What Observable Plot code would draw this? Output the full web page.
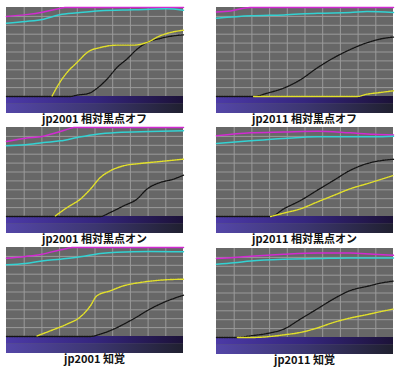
<!DOCTYPE html>
<html><head><meta charset="utf-8">
<script src="https://cdn.jsdelivr.net/npm/d3@7"></script>
<script src="https://cdn.jsdelivr.net/npm/@observablehq/plot@0.6"></script>
<style>
body{margin:0;background:#fff;}
#wrap{position:relative;width:400px;height:374px;overflow:hidden;}
.panel{position:absolute;z-index:1;}
.lbl{position:absolute;z-index:5;width:200px;text-align:center;font-family:"Noto Sans CJK JP","Noto Sans",sans-serif;font-weight:bold;font-size:11px;line-height:12px;color:#111;}
</style></head>
<body><div id="wrap"></div>
<script>
// ---- data (x: 0–100 across panel, y: 0–100 above bar) ----
const titles = ["jp2001 相対黒点オフ","jp2011 相対黒点オフ","jp2001 相対黒点オン","jp2011 相対黒点オン","jp2001 知覚","jp2011 知覚"];

const p1Magenta=[[0,90],[11,92],[21,95],[30,99],[33,100],[100,100]];
const p1Cyan=[[0,82.4],[11,84.3],[21,86.9],[30,91.8],[40,94],[53,96.3],[72,97.4],[90,98.5],[100,97]];
const p1Yellow=[[25.8,0.7],[29.5,13.9],[34.2,27],[39.8,38.2],[46.4,50.6],[53,55],[62.4,57.7],[71.8,57.7],[79.3,60.7],[86.8,68.2],[94.4,72.7],[100,74.5]];
const p1Black=[[0,0],[36,0],[39.8,1.5],[46.4,3.4],[51,9],[56.8,19.5],[62.4,32.6],[68,42],[73.7,53],[79.3,60.7],[86.8,65.2],[94.4,68.2],[100,69.3]];

const p2Magenta=[[0,95],[8,96.2],[19,100],[100,100]];
const p2Cyan=[[0,87.9],[19.3,90.6],[38,91.7],[57,93.6],[75.6,94.3],[85,95.5],[100,94.3]];
const p2Yellow=[[21,0],[79.4,0],[85,2.6],[92.5,4.5],[100,6.4]];
const p2Black=[[0,0],[21,0],[28.7,3.8],[38,9.4],[47.5,18.9],[56.8,32],[66.2,43.4],[75.6,52.8],[85,60.4],[94.4,65.3],[100,66.8]];

const p3Magenta=[[0,84.3],[10.7,88],[20.1,89.9],[28.6,94.4],[36,99],[38,100],[100,100]];
const p3Cyan=[[0,79.4],[10.7,80.5],[21,83.1],[30.5,85],[40,88.8],[51,92.5],[62.4,94.4],[81.2,95.5],[100,96.3]];
const p3Yellow=[[27.6,0.7],[34.2,10],[41.7,19.5],[47.4,30.7],[53,43.8],[58.6,51.3],[66.2,57],[75.6,59.6],[86.8,61.8],[100,64.4]];
const p3Black=[[0,0],[53,0],[58.6,4.5],[66.2,12],[73.7,19.5],[79.3,30.7],[86.8,38.2],[94.4,42],[100,46.4]];

const p4Magenta=[[0,90.6],[19.3,94],[38,95],[57,95.9],[75.6,94],[88.7,92.5],[100,91.7]];
const p4Cyan=[[0,82],[19.3,85],[38,87.6],[57,89.5],[75.6,89.5],[88.7,89.5],[100,90.2]];
const p4Yellow=[[30.6,0],[38,3.8],[47.5,8.6],[56.8,16.2],[66.2,23.7],[75.6,31.2],[85,36.8],[92.5,41.4],[100,46.2]];
const p4Black=[[0,0],[30.6,0],[38,8.6],[47.5,18],[56.8,29.3],[66.2,40.6],[75.6,51.9],[85,59.4],[94.4,63.2],[100,64.3]];

const p5Magenta=[[0,88],[10.7,90],[20.1,92.5],[29.5,97],[34.2,99],[37,100],[100,100]];
const p5Cyan=[[0,80.5],[10.7,82],[21,85],[30.5,86.9],[41.7,89.5],[53,93.3],[62.4,94.8],[81.2,95.5],[100,95.1]];
const p5Yellow=[[17.3,0.7],[24.8,6.4],[34.2,13.9],[41.7,22],[47.4,34.5],[51,45.7],[58.6,51.3],[66.2,57],[75.6,60.7],[86.8,63.3],[100,64.4]];
const p5Black=[[0,0],[47.4,0],[53,2.6],[60.5,8.2],[68,15.7],[73.7,22],[79.3,28.8],[88.7,38.2],[100,46.4]];

const p6Magenta=[[0,88.7],[10,89.8],[19.3,91.3],[38,93.6],[57,95],[75.6,95],[88.7,93.6],[100,92.5]];
const p6Cyan=[[0,82.3],[10,84],[19.3,86],[38,88],[57,88.7],[75.6,89.4],[100,89.4]];
const p6Yellow=[[11.8,0],[19.3,0],[28.7,0.8],[38,3],[47.5,5.7],[56.8,10.6],[66.2,17],[75.6,21.9],[85,25.7],[92.5,29],[100,32]];
const p6Black=[[0,0],[11.8,0],[19.3,1.9],[28.7,4.5],[38,9.4],[47.5,20.8],[56.8,32],[66.2,43.4],[75.6,52.8],[85,57.4],[92.5,61],[100,63.4]];

const gridTicks=[10,20,30,40,50,60,70,80,90];
const xDomain=[0,100], yTop=100, barDepth=19.1;

const panels=[
 {m:p1Magenta,c:p1Cyan,y:p1Yellow,b:p1Black,left:6,top:7},
 {m:p2Magenta,c:p2Cyan,y:p2Yellow,b:p2Black,left:216,top:7},
 {m:p3Magenta,c:p3Cyan,y:p3Yellow,b:p3Black,left:6,top:127},
 {m:p4Magenta,c:p4Cyan,y:p4Yellow,b:p4Black,left:216,top:127},
 {m:p5Magenta,c:p5Cyan,y:p5Yellow,b:p5Black,left:6,top:247},
 {m:p6Magenta,c:p6Cyan,y:p6Yellow,b:p6Black,left:216,top:248}
];
const W=177,H=106;
const wrap=document.getElementById("wrap");

panels.forEach((p,i)=>{
  const idT="gt"+i, idB="gb"+i;
  const band=[{x1:xDomain[0],x2:xDomain[1],y1:-barDepth*0.45,y2:0},
              {x1:xDomain[0],x2:xDomain[1],y1:-barDepth,y2:-barDepth*0.45}];
  const svg=Plot.plot({
    width:W,height:H,margin:0,
    x:{domain:xDomain,axis:null},
    y:{domain:[-barDepth,yTop],axis:null},
    style:{background:"#676767",overflow:"visible"},
    marks:[
      Plot.ruleX(gridTicks,{x:d=>d,y1:0,y2:yTop,stroke:"#9a9a9a",strokeWidth:1}),
      Plot.ruleY(gridTicks,{y:d=>d,stroke:"#9a9a9a",strokeWidth:1}),
      Plot.rect([band[0]],{x1:"x1",x2:"x2",y1:"y1",y2:"y2",fill:`url(#${idT})`}),
      Plot.rect([band[1]],{x1:"x1",x2:"x2",y1:"y1",y2:"y2",fill:`url(#${idB})`}),
      Plot.line(p.m,{x:d=>d[0],y:d=>d[1],stroke:"#d22ad2",strokeWidth:1.5,curve:"monotone-x"}),
      Plot.line(p.c,{x:d=>d[0],y:d=>d[1],stroke:"#33d2d2",strokeWidth:1.5,curve:"monotone-x"}),
      Plot.line(p.b,{x:d=>d[0],y:d=>d[1],stroke:"#141414",strokeWidth:1.3,strokeDasharray:"1.5,1",curve:"monotone-x"}),
      Plot.line(p.y,{x:d=>d[0],y:d=>d[1],stroke:"#e2e02a",strokeWidth:1.4,strokeDasharray:"1.5,1",curve:"monotone-x"})
    ]
  });
  const defs=d3.select(svg).insert("defs",":first-child");
  const gt=defs.append("linearGradient").attr("id",idT).attr("x1",0).attr("x2",1).attr("y1",0).attr("y2",0);
  gt.append("stop").attr("offset",0).attr("stop-color","#4c3aa6");
  gt.append("stop").attr("offset",0.5).attr("stop-color","#35267e");
  gt.append("stop").attr("offset",1).attr("stop-color","#1c1238");
  const gb=defs.append("linearGradient").attr("id",idB).attr("x1",0).attr("x2",1).attr("y1",0).attr("y2",0);
  gb.append("stop").attr("offset",0).attr("stop-color","#5446a8");
  gb.append("stop").attr("offset",0.5).attr("stop-color","#3c3670");
  gb.append("stop").attr("offset",1).attr("stop-color","#202030");
  const div=document.createElement("div");
  div.className="panel";div.style.left=p.left+"px";div.style.top=p.top+"px";
  div.appendChild(svg);wrap.appendChild(div);
  const lab=document.createElement("div");
  lab.className="lbl";lab.textContent=titles[i];
  lab.style.left=(p.left+W/2-100)+"px";lab.style.top=(p.top+H-1)+"px";
  wrap.appendChild(lab);
});
</script></body></html>
